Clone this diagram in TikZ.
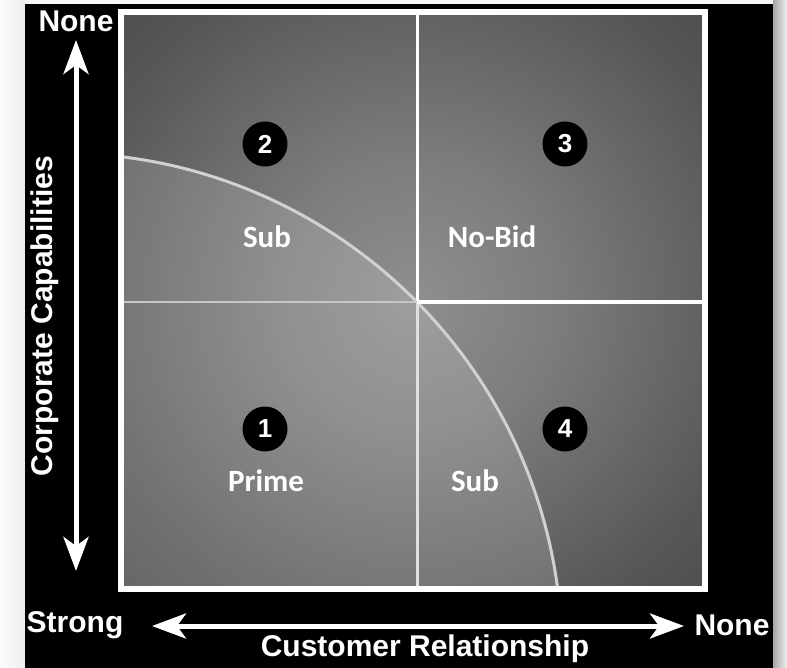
\documentclass[tikz,border=0pt]{standalone}
\usepackage{fontspec}
\usetikzlibrary{arrows.meta}
\newfontfamily\quadfont{Carlito}
\newfontfamily\axisfont{Liberation Sans}
\pgfdeclareradialshading{quadglow}{\pgfpoint{0bp}{0bp}}{%
  gray(0bp)=(0.56);gray(12bp)=(0.49);gray(30bp)=(0.34);gray(45bp)=(0.25);gray(50bp)=(0.22)}
\begin{document}
\begin{tikzpicture}[x=1pt,y=-1pt,
  axislabel/.style={text=white,inner sep=0pt,font=\axisfont\bfseries\fontsize{30}{32}\selectfont},
  quadlabel/.style={text=white,inner sep=0pt,font=\quadfont\bfseries\fontsize{31}{33}\selectfont},
  numdot/.style={circle,fill=black,minimum size=45pt,inner sep=0pt,text=white,font=\axisfont\bfseries\fontsize{26}{27}\selectfont},
  axisarrow/.style={white,line width=5pt,{Stealth[length=34pt,width=25pt,inset=9pt]}-{Stealth[length=34pt,width=25pt,inset=9pt]}},
  divline/.style={line width=3pt},
]
\useasboundingbox (0,0) rectangle (787,668);
% outer page and shadow
\fill[gray!6] (0,0) rectangle (787,668);
\shade[left color=gray!70, right color=gray!12] (773,0) rectangle (787,668);
\shade[left color=gray!3, right color=gray!14] (0,0) rectangle (25,668);
\fill[black] (25,4) rectangle (773,668);
% square background
\shade[shading=quadglow] (121,12) rectangle (705,589);
\begin{scope}
  \clip (121,12) rectangle (705,589);
  \fill[white,opacity=0.14] (60,655) circle[radius=502pt];
  \draw[black!18,line width=3pt] (60,655) circle[radius=502pt];
\end{scope}
% dividers
\coordinate (top) at (417,12);
\coordinate (mid) at (417,302);
\coordinate (bot) at (417,589);
\coordinate (lft) at (121,302);
\coordinate (rgt) at (705,302);
\draw[divline,white] (top) -- (mid);
\draw[divline,black!12] (mid) -- (bot);
\draw[divline,black!22,line width=2.5pt] (lft) -- (mid);
\draw[divline,white,line width=3.5pt] (mid) -- (rgt);
% frame
\draw[white,line width=6pt] (121,12) rectangle (705,589);
% number dots
\node[numdot] (n2) at (265,144) {2};
\node[numdot] (n3) at (565,144) {3};
\node[numdot] (n1) at (265,429) {1};
\node[numdot] (n4) at (565,429) {4};
% quadrant labels
\node[quadlabel] (q2) at (267,237) {Sub};
\node[quadlabel] (q3) at (492,237) {No-Bid};
\node[quadlabel] (q1) at (266,481) {Prime};
\node[quadlabel] (q4) at (475,481) {Sub};
% axes
\coordinate (vtop) at (76,40);
\coordinate (vbot) at (76,571);
\draw[axisarrow] (vtop) -- (vbot);
\coordinate (hl) at (152,626);
\coordinate (hr) at (684,626);
\draw[axisarrow] (hl) -- (hr);
\node[axislabel] (noneTop) at (76,21) {None};
\node[axislabel] (strong) at (75,625) {Strong};
\node[axislabel] (noneRight) at (732,625) {None};
\node[axislabel] (cust) at (425,649) {Customer Relationship};
\node[axislabel,rotate=90] (corp) at (45,316) {Corporate Capabilities};
\end{tikzpicture}
\end{document}
